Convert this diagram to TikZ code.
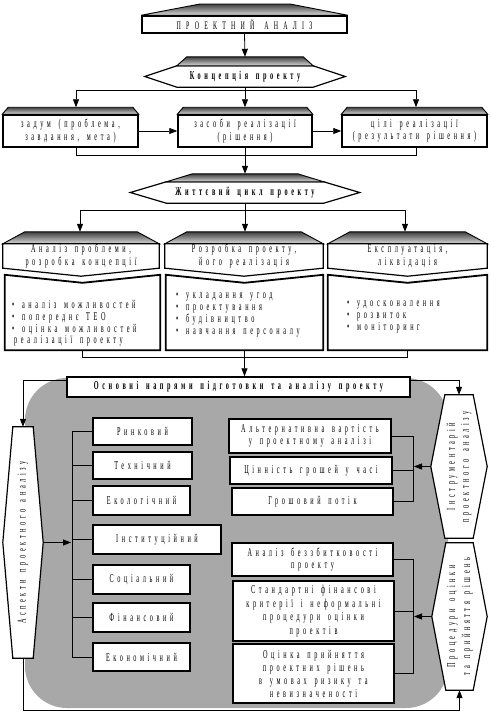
\documentclass[tikz,border=0pt]{standalone}
\usepackage{fontspec}
\usepackage{graphicx}
\setmainfont{Liberation Serif}[FakeStretch=0.52,LetterSpace=30,WordSpace=1.5]
\newfontfamily\widefont{Liberation Serif}[FakeStretch=0.52,LetterSpace=45,WordSpace=1.5]
\usetikzlibrary{arrows.meta,calc}
\definecolor{areagray}{RGB}{168,168,168}
\pgfdeclarelayer{back}
\pgfdeclarelayer{shapes}
\pgfsetlayers{back,shapes,main}
\begin{document}
\begin{tikzpicture}[x=1pt,y=-1pt,
  every node/.style={inner sep=0pt,align=center,font=\fontsize{12}{12.5}\selectfont},
  conn/.style={line width=0.8pt},
  arr/.style={conn,-{Triangle[length=8pt,width=6pt]}},
  box/.style={draw,line width=1.5pt,fill=white},
  heavybox/.style={draw,line width=2.2pt,fill=white},
  outline/.style={draw,line width=1.2pt,fill=white},
  heavyoutline/.style={draw,line width=1.8pt,fill=white},
  roof/.style={top color=black!75,bottom color=black!15,draw=black,line width=0.9pt},
  bullets/.style={anchor=west,align=left,font=\fontsize{12}{11.7}\selectfont},
  bold/.style={font=\bfseries\fontsize{12}{12}\selectfont},
]
\useasboundingbox (0,0) rectangle (490,712);

% ---------- top part ----------
\node[box,minimum width=205,minimum height=17,font=\widefont\fontsize{11.5}{12}\selectfont] (title) at (244.5,24.5) {ПРОЕКТНИЙ АНАЛІЗ};
\node[bold,minimum width=200,minimum height=21] (conc) at (245,76.5) {Концепція проекту};
\node[box,minimum width=135,minimum height=32] (b1) at (70.5,131) {задум (проблема,\\завдання, мета)};
\node[box,minimum width=134,minimum height=32] (b2) at (245,131) {засоби реалізації\\(рішення)};
\node[box,minimum width=145,minimum height=32] (b3) at (414.5,131) {цілі реалізації\\(результати рішення)};
\node[bold,minimum width=229,minimum height=21] (life) at (245,192.5) {Життєвий цикл проекту};

% ---------- phases ----------
\node[minimum width=156,minimum height=24] (pa) at (81,256) {Аналіз проблеми,\\розробка концепції};
\node[minimum width=158,minimum height=24] (pb) at (244,256) {Розробка проекту,\\його реалізація};
\node[minimum width=159,minimum height=24] (pc) at (407.5,256) {Експлуатація,\\ліквідація};
\node[minimum width=155,minimum height=75] (pabox) at (82.5,312.5) {};
\node[minimum width=157,minimum height=75] (pbbox) at (244.5,312.5) {};
\node[minimum width=159,minimum height=75] (pcbox) at (407.5,312.5) {};
\node[bullets] (pat) at (12,323.5) {• аналіз можливостей\\• попереднє ТЕО\\• оцінка можливостей\\\hspace*{2pt}реалізації проекту};
\node[bullets] (pbt) at (176,315) {• укладання угод\\• проектування\\• будівництво\\• навчання персоналу};
\node[bullets] (pct) at (347,317) {• удосконалення\\• розвиток\\• моніторинг};

% ---------- main block ----------
\node[box,bold,minimum width=343,minimum height=20] (main) at (238.5,387) {Основні напрями підготовки та аналізу проекту};

\node[minimum width=40,minimum height=231] (asp) at (23,542.5) {\rotatebox{90}{Аспекти проектного аналізу}};

\node[box,minimum width=99,minimum height=27] (r1) at (142.5,431.5) {Ринковий};
\node[box,minimum width=99,minimum height=27] (r2) at (142.5,465.5) {Технічний};
\node[box,minimum width=97,minimum height=29] (r3) at (141.5,500.5) {Екологічний};
\node[heavybox,minimum width=128,minimum height=29] (r4) at (157,539.5) {Інституційний};
\node[box,minimum width=97,minimum height=29] (r5) at (141.5,579.5) {Соціальний};
\node[box,minimum width=97,minimum height=29] (r6) at (141.5,617.5) {Фінансовий};
\node[heavybox,minimum width=97,minimum height=28] (r7) at (141.5,657) {Економічний};

\node[box,minimum width=162,minimum height=34] (alt) at (310,436) {Альтернативна вартість\\у проектному аналізі};
\node[box,minimum width=162,minimum height=27] (cin) at (311,470.5) {Цінність грошей у часі};
\node[box,minimum width=161,minimum height=27] (gros) at (312.5,501.5) {Грошовий потік};

\node[box,minimum width=161,minimum height=33] (bez) at (312.5,559.5) {Аналіз беззбитковості\\проекту};
\node[box,minimum width=161,minimum height=60,font=\fontsize{12}{13.5}\selectfont] (std) at (313.5,611) {Стандартні фінансові\\критерії і неформальні\\процедури оцінки\\проектів};
\node[heavybox,minimum width=161,minimum height=59,font=\fontsize{12}{13}\selectfont] (ocin) at (313.5,673.5) {Оцінка прийняття\\проектних рішень\\в умовах ризику та\\невизначеності};

\node[minimum width=56,minimum height=143,font=\fontsize{12}{14}\selectfont] (instr) at (459,466.5) {\rotatebox{90}{\begin{tabular}{@{}c@{}}Інструментарій\\проектного аналізу\end{tabular}}};
\node[minimum width=55,minimum height=147,font=\fontsize{12}{15}\selectfont] (proc) at (459.5,616.5) {\rotatebox{90}{\begin{tabular}{@{}c@{}}Процедури оцінки\\та прийняття рішень\end{tabular}}};

% ---------- background ----------
\begin{pgfonlayer}{back}
  \fill[areagray,rounded corners=42] (25,378) rectangle (448,708);
\end{pgfonlayer}

% ---------- shapes ----------
\begin{pgfonlayer}{shapes}
  \path[roof] (title.north west) -- (200,4) -- (290,4) -- (title.north east) -- cycle;
  \path[outline] (conc.west) -- ($(conc.north west)+(32,0)$) -- ($(conc.north east)+(-32,0)$) -- (conc.east) -- ($(conc.south east)+(-32,0)$) -- ($(conc.south west)+(32,0)$) -- cycle;
  \path[roof] ($(conc.north west)+(32,0)$) -- ($(conc.north west)+(42,-9)$) -- ($(conc.north east)+(-42,-9)$) -- ($(conc.north east)+(-32,0)$) -- cycle;
  \foreach \b in {b1,b2,b3}{
    \path[roof] (\b.north west) -- ($(\b.north west)+(6,-7)$) -- ($(\b.north east)+(-6,-7)$) -- (\b.north east) -- cycle;
  }
  \path[outline] (life.west) -- ($(life.north west)+(36,0)$) -- ($(life.north east)+(-36,0)$) -- (life.east) -- ($(life.south east)+(-36,0)$) -- ($(life.south west)+(36,0)$) -- cycle;
  \path[roof] ($(life.north west)+(36,0)$) -- ($(life.north west)+(62,-8)$) -- ($(life.north east)+(-62,-8)$) -- ($(life.north east)+(-36,0)$) -- cycle;
  \foreach \p in {pa,pb,pc}{
    \path[roof] (\p.north west) -- ($(\p.north west)+(22,-12)$) -- ($(\p.north east)+(-22,-12)$) -- (\p.north east) -- cycle;
    \path[outline] (\p.north west) -- (\p.north east) -- (\p.south east) -- ($(\p.south)+(0,8)$) -- (\p.south west) -- cycle;
  }
  \foreach \p in {pabox,pbbox,pcbox}{
    \path[heavyoutline] (\p.north west) -- ($(\p.north)+(0,8)$) -- (\p.north east) -- (\p.south east) -- (\p.south west) -- cycle;
  }
  \path[outline] ($(asp.north west)+(10,0)$) -- ($(asp.north east)+(-10,0)$) -- (asp.east) -- ($(asp.south east)+(-10,0)$) -- ($(asp.south west)+(10,0)$) -- (asp.west) -- cycle;
  \foreach \h in {instr,proc}{
    \path[outline] ($(\h.north west)+(14,0)$) -- ($(\h.north east)+(-14,0)$) -- (\h.east) -- ($(\h.south east)+(-14,0)$) -- ($(\h.south west)+(14,0)$) -- (\h.west) -- cycle;
  }
\end{pgfonlayer}

% ---------- connectors ----------
\coordinate (sp1) at (245,90);
\coordinate (sp2) at (245,210);
\coordinate (lbus) at (72,0);
\coordinate (rbus) at (413,0);

\draw[arr] (title.south) -- ($(conc.north)+(0,-9)$);
\draw[conn] (conc.south) -- (sp1);
\draw[arr] (sp1) -| ($(b1.north)+(5.5,-7)$);
\draw[arr] (sp1) -- ($(b2.north)+(0,-7)$);
\draw[arr] (sp1) -| ($(b3.north)+(1.5,-7)$);
\draw[arr] (b1) -- (b2);
\draw[arr] (b2) -- (b3);
\draw[conn] ($(b1.south)+(5.5,0)$) -- ++(0,8) -| ($(b3.south)+(1.5,0)$);
\draw[arr] (b2.south) -- ($(life.north)+(0,-8)$);

\draw[conn] (life.south) -- (sp2);
\draw[arr] (sp2) -| ($(pa.north)+(-1,-12)$);
\draw[arr] (sp2) -- ($(pb.north)+(1,-12)$);
\draw[arr] (sp2) -| ($(pc.north)+(-2.5,-12)$);
\draw[conn] (pabox.south) -- ++(0,7) -| (pcbox.south);
\draw[arr] (pbbox.south) -- (pbbox.south |- main.north);

\draw[arr] ($(main.north west)+(0,4)$) -| (asp.north);
\draw[arr] ($(main.north east)+(0,4)$) -| (instr.north);

\draw[conn] (r1.west -| lbus) -- (r7.west -| lbus);
\foreach \r in {r1,r2,r3,r4,r5,r6,r7}{
  \draw[conn] (\r.west) -- (\r.west -| lbus);
}
\draw[arr] (asp.east) -- ($(asp.east -| lbus)+(-1,0)$);

\draw[conn] (alt.east) -- (alt.east -| rbus) -- (gros.east -| rbus) -- (gros.east);
\draw[conn] (cin.east) -- (cin.east -| rbus);
\draw[arr] (instr.west) -- ($(instr.west -| rbus)+(1,0)$);

\draw[conn] (bez.east) -- (bez.east -| rbus) -- (ocin.east -| rbus) -- (ocin.east);
\draw[conn] (std.east) -- (std.east -| rbus);
\draw[arr] (proc.west) -- ($(proc.west -| rbus)+(1,0)$);

\draw[arr] (asp.south) -- ++(0,52) -| (proc.south);
\end{tikzpicture}
\end{document}
